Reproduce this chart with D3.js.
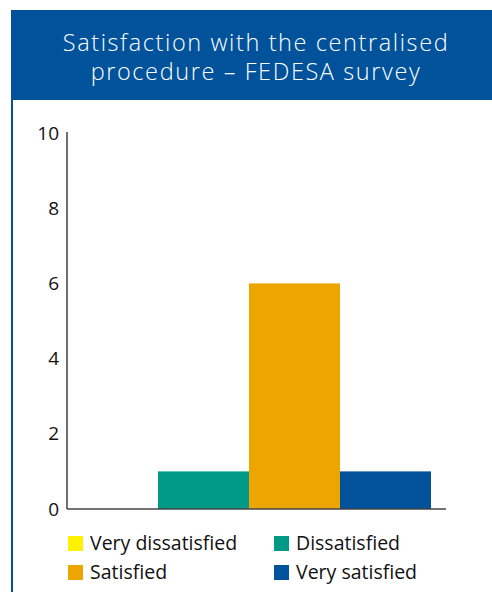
<!DOCTYPE html>
<html>
<head>
<meta charset="utf-8">
<script src="https://cdn.jsdelivr.net/npm/d3@7"></script>
<style>
  body { margin: 0; background: #fff; }
  svg { display: block; }
</style>
</head>
<body>
<div id="main"></div>
<script>
const categories = ['Very dissatisfied', 'Dissatisfied', 'Satisfied', 'Very satisfied'];
const values = [0, 1, 6, 1];
const colours = ['#FFF200', '#009A87', '#EDA500', '#00529B'];
const yTicks = [0, 2, 4, 6, 8, 10];
const titleLines = ['Satisfaction with the centralised', 'procedure \u2013 FEDESA survey'];

const width = 492;
const height = 592;
const font = "'Open Sans', 'DejaVu Sans', sans-serif";

const svg = d3.select('#main')
  .append('svg')
  .attr('width', width)
  .attr('height', height);

// header band and frame line
svg.append('rect')
  .attr('x', 11).attr('y', 10)
  .attr('width', width - 11).attr('height', 90)
  .attr('fill', '#00529B');
svg.append('rect')
  .attr('x', 11).attr('y', 100)
  .attr('width', 2).attr('height', height - 100)
  .attr('fill', '#00529B');

svg.append('g')
  .selectAll('text')
  .data(titleLines)
  .join('text')
    .attr('x', 256)
    .attr('y', (d, i) => 51 + i * 29)
    .attr('text-anchor', 'middle')
    .attr('fill', '#fff')
    .attr('font-family', font)
    .attr('font-weight', 300)
    .attr('font-size', '23.5px')
    .attr('letter-spacing', '1.6px')
    .text(d => d);

const x = d3.scaleBand()
  .domain(categories)
  .range([67, 431])
  .padding(0);

const y = d3.scaleLinear()
  .domain([0, 10])
  .range([509, 133]);

svg.append('g')
  .selectAll('rect')
  .data(categories)
  .join('rect')
    .attr('x', d => x(d))
    .attr('y', (d, i) => y(values[i]))
    .attr('width', x.bandwidth())
    .attr('height', (d, i) => y(0) - y(values[i]))
    .attr('fill', (d, i) => colours[i]);

// y axis
const yAxis = svg.append('g')
  .attr('transform', 'translate(67,0)')
  .call(d3.axisLeft(y).tickValues(yTicks).tickSize(0).tickPadding(8));
yAxis.select('.domain')
  .attr('d', `M0,${y(10) - 1}V${y(0)}`)
  .attr('stroke', '#111').attr('stroke-width', 1.2);
yAxis.selectAll('text')
  .attr('font-family', font)
  .attr('font-size', '19px')
  .attr('fill', '#111');

// x axis line
svg.append('line')
  .attr('x1', 67).attr('x2', 446)
  .attr('y1', y(0)).attr('y2', y(0))
  .attr('stroke', '#444').attr('stroke-width', 1.5);

// legend
const legend = svg.append('g')
  .selectAll('g')
  .data(categories)
  .join('g')
    .attr('transform', (d, i) => `translate(${i % 2 === 0 ? 68 : 274},${536 + Math.floor(i / 2) * 29})`);
legend.append('rect')
  .attr('width', 15).attr('height', 15)
  .attr('fill', (d, i) => colours[i]);
legend.append('text')
  .attr('x', 22).attr('y', 14)
  .attr('font-family', font)
  .attr('font-size', '19.5px')
  .attr('fill', '#111')
  .text(d => d);
</script>
</body>
</html>
